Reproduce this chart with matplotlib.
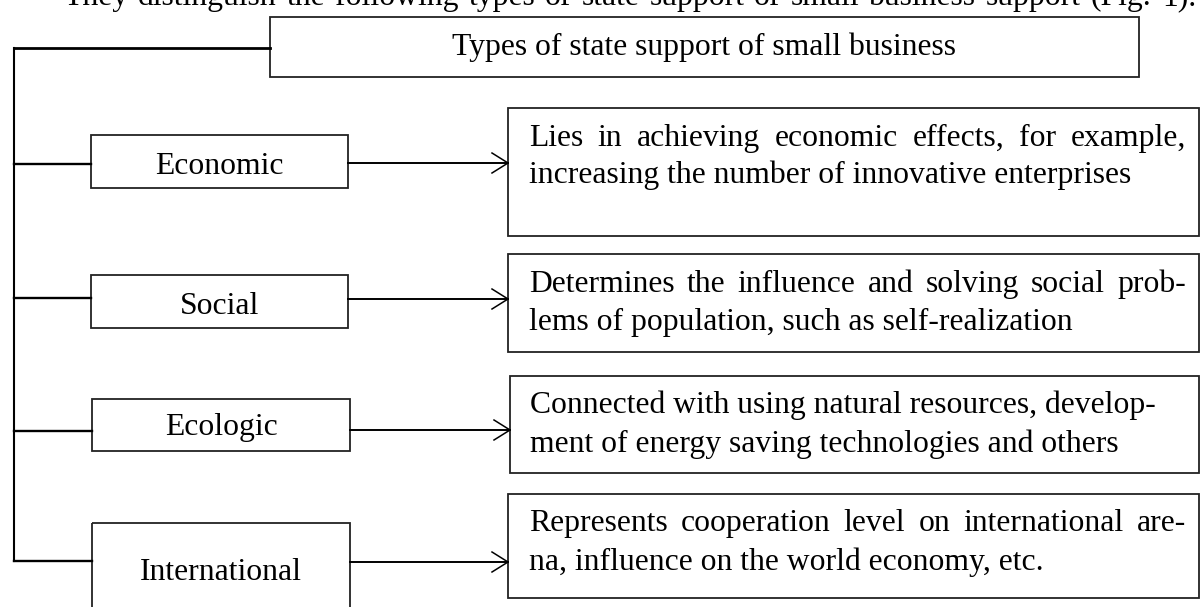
"""
Fig. 1 - types of state support of small business (block diagram).

Output: out.png (1201 x 607 px)
"""

import matplotlib
matplotlib.use("Agg")
import matplotlib.pyplot as plt
from matplotlib.patches import Rectangle

W, H, DPI = 1201, 607, 100
FONT = "Liberation Serif"
FS = 22.75  # pt, ~31.6 px em at 100 dpi

# --- content -------------------------------------------------------------
intro = ("They distinguish the following types of state support "
         "of small business support (Fig. 1).")
title = "Types of state support of small business"
types = ["Economic", "Social", "Ecologic", "International"]
descriptions = [
    ["Lies in achieving economic effects, for example,",
     "increasing the number of innovative enterprises"],
    ["Determines the influence and solving social prob-",
     "lems of population, such as self-realization"],
    ["Connected with using natural resources, develop-",
     "ment of energy saving technologies and others"],
    ["Represents cooperation level on international are-",
     "na, influence on the world economy, etc."],
]
# first line of each description is set justified in the source
justified_first = [True, True, False, True]

# --- layout (pixel coordinates, y down) ----------------------------------
spine_x = 14
title_box = (270, 17, 1139, 77)
title_line_y = 48
type_x0 = [91, 91, 92, 92]
type_x1 = [348, 348, 350, 350]
type_y0 = [135, 275, 399, 523]
type_y1 = [188, 328, 451, 650]
branch_y = [164, 298, 431, 561]
arrow_y = [163, 299, 430, 562]
type_base = [174, 314, 435, 580]
desc_x0 = [508, 508, 510, 508]
desc_x1 = 1199
desc_y0 = [108, 254, 376, 494]
desc_y1 = [236, 352, 473, 598]
desc_text_x = [529, 529, 530, 529]
desc_base = [(146, 183), (292, 330), (413, 452), (531, 570)]
justify_right = 1186

fig = plt.figure(figsize=(W / DPI, H / DPI), dpi=DPI)
ax = fig.add_axes([0, 0, 1, 1])
ax.set_xlim(0, W)
ax.set_ylim(H, 0)
ax.axis("off")
renderer = fig.canvas.get_renderer()

txt = dict(family=FONT, fontsize=FS, color="black", va="baseline")


def box(x0, y0, x1, y1, lw=1.3):
    ax.add_patch(Rectangle((x0, y0), x1 - x0, y1 - y0, fill=False,
                           edgecolor="#222222", lw=lw, clip_on=False))


def justify(line, x0, x1, y):
    words = line.split()
    items = [ax.text(0, y, w, ha="left", **txt) for w in words]
    widths = [t.get_window_extent(renderer).width for t in items]
    gap = (x1 - x0 - sum(widths)) / (len(words) - 1)
    x = x0
    for t, w in zip(items, widths):
        t.set_x(x)
        x += w + gap


# clipped sentence from the page above the figure
justify(intro, 63, 1196, 5)

# title block and the spine
box(*title_box)
ax.text((title_box[0] + title_box[2]) / 2, 55, title, ha="center", **txt)
ax.plot([spine_x, title_box[0]], [title_line_y, title_line_y], color="black", lw=2.0)
ax.plot([spine_x, spine_x], [title_line_y, branch_y[-1]], color="black", lw=1.5)

for i, name in enumerate(types):
    box(type_x0[i], type_y0[i], type_x1[i], type_y1[i])
    ax.text((type_x0[i] + type_x1[i]) / 2, type_base[i], name, ha="center", **txt)
    ax.plot([spine_x, type_x0[i]], [branch_y[i], branch_y[i]], color="black", lw=1.7)

    # arrow with an open head
    tip = desc_x0[i]
    ya = arrow_y[i]
    ax.plot([type_x1[i], tip], [ya, ya], color="black", lw=1.4)
    ax.plot([tip - 16, tip, tip - 16], [ya - 10, ya, ya + 10], color="black", lw=1.1)

    box(desc_x0[i], desc_y0[i], desc_x1, desc_y1[i])
    first, second = descriptions[i]
    if justified_first[i]:
        justify(first, desc_text_x[i], justify_right, desc_base[i][0])
    else:
        ax.text(desc_text_x[i], desc_base[i][0], first, ha="left", **txt)
    ax.text(desc_text_x[i], desc_base[i][1], second, ha="left", **txt)

fig.savefig("out.png", dpi=DPI, facecolor="white")
